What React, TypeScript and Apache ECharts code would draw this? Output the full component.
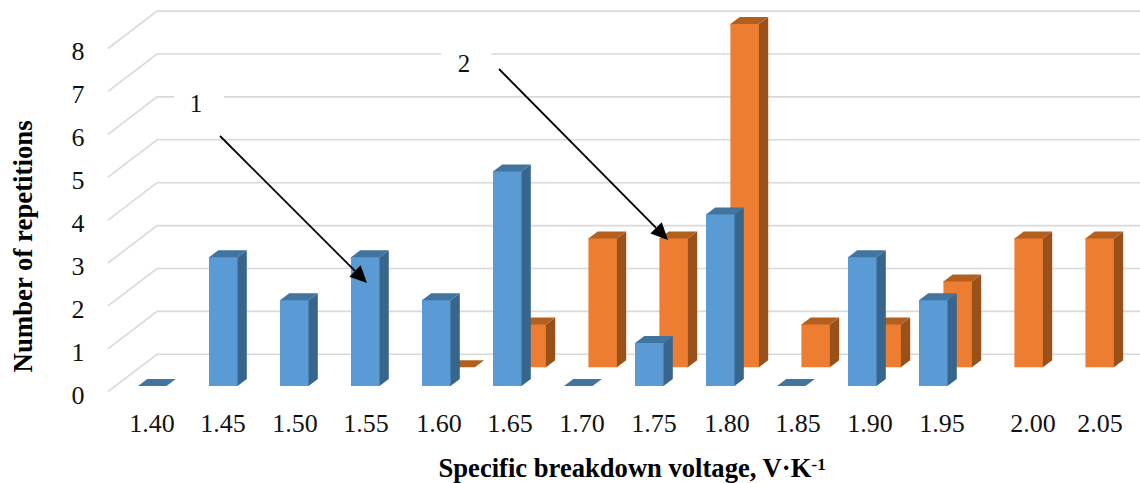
import React, { useEffect, useRef } from "react";
import * as echarts from "echarts";

const categories = ["1.40","1.45","1.50","1.55","1.60","1.65","1.70","1.75","1.80","1.85","1.90","1.95","2.00","2.05"];
const series1 = [0,3,2,3,2,5,0,1,4,0,3,2,null,null];
const series2 = [null,null,null,null,0,1,3,3,8,1,1,2,3,3];
const yTicks = [0,1,2,3,4,5,6,7,8];

const FONT = '"Liberation Serif", "Times New Roman", serif';
const GRID_LEFT = 116.5, BAND = 71, GRID_TOP = 42.8, GRID_H = 343.2;
const BAR_W = 28.5, DEPTH_X = 9.3, DEPTH_Y = 7;
const labelShift = [0,0,1,1,3,3,4,5,7,7,8,9,29,25];

function barRenderer(dx: number, dy: number, front: string, top: string, side: string) {
  return (_p: any, api: any) => {
    const i = api.value(0), v = api.value(1);
    const [cx, yTop0] = api.coord([i, v]);
    const [, yBase0] = api.coord([i, 0]);
    const x0 = cx + dx, x1 = x0 + BAR_W;
    const yT = yTop0 + dy, yB = yBase0 + dy;
    const children: any[] = [];
    if (v > 0) {
      // The side and top run slightly under the front face, so no seam shows between them.
      children.push({ type: "polygon", shape: { points: [[x1-1,yT],[x1,yT],[x1+DEPTH_X,yT-DEPTH_Y],[x1+DEPTH_X,yB-DEPTH_Y],[x1,yB],[x1-1,yB]] }, style: { fill: side } });
      children.push({ type: "polygon", shape: { points: [[x0,yT+1],[x0,yT],[x0+DEPTH_X,yT-DEPTH_Y],[x1+DEPTH_X,yT-DEPTH_Y],[x1,yT],[x1,yT+1]] }, style: { fill: top } });
      children.push({ type: "polygon", shape: { points: [[x0,yT],[x1,yT],[x1,yB],[x0,yB]] }, style: { fill: front } });
    } else {
      children.push({ type: "polygon", shape: { points: [[x0,yT],[x1,yT],[x1+DEPTH_X,yT-DEPTH_Y],[x0+DEPTH_X,yT-DEPTH_Y]] }, style: { fill: top } });
    }
    return { type: "group", children };
  };
}

function wallRenderer(_p: any, api: any) {
  const v = api.value(1);
  const [, y] = api.coord([0, v]);
  return {
    type: "polyline",
    shape: { points: [[108, y + 5.7], [157, y - 31.7], [1140, y - 31.7]] },
    style: { stroke: "#d9d9d9", lineWidth: 1.6, fill: "none" },
  };
}

function arrow(x1: number, y1: number, x2: number, y2: number) {
  const a = Math.atan2(y2 - y1, x2 - x1);
  const len = 17, half = 8;
  const bx = x2 - len * Math.cos(a), by = y2 - len * Math.sin(a);
  const nx = -Math.sin(a) * half, ny = Math.cos(a) * half;
  return [
    { type: "line", z: 20, shape: { x1, y1, x2: bx, y2: by }, style: { stroke: "#000", lineWidth: 1.8 } },
    { type: "polygon", z: 20, shape: { points: [[x2, y2], [bx + nx, by + ny], [bx - nx, by - ny]] }, style: { fill: "#000" } },
  ];
}

function callout(text: string, cx: number, cy: number, rx: number, ry: number) {
  return [
    { type: "rect", z: 15, shape: { x: rx, y: ry, width: 50, height: 30 }, style: { fill: "#fff" } },
    { type: "text", z: 16, x: cx, y: cy, style: { text, font: `25px ${FONT}`, fill: "#111", align: "center", verticalAlign: "middle" } },
  ];
}

export default function App() {
  const ref = useRef<HTMLDivElement>(null);
  useEffect(() => {
    document.body.style.margin = "0";
    const chart = echarts.init(ref.current!, null, { renderer: "svg" });
    const rich: any = {};
    labelShift.forEach((s, i) => {
      rich["s" + i] = { fontFamily: FONT, fontSize: 26, color: "#111", padding: [0, 0, 0, 2 * s] };
    });
    chart.setOption({
      animation: false,
      backgroundColor: "#fff",
      grid: { left: GRID_LEFT, top: GRID_TOP, width: BAND * categories.length, height: GRID_H, outerBoundsMode: "none", containLabel: false },
      xAxis: {
        type: "category",
        data: categories,
        axisLine: { show: false },
        axisTick: { show: false },
        axisLabel: {
          interval: 0,
          margin: 24,
          hideOverlap: false,
          formatter: (v: string, i: number) => `{s${i}|${v}}`,
          rich,
        },
        name: "{t|Specific breakdown voltage, V·K}{sup|-1}",
        nameLocation: "middle",
        nameGap: 70,
        nameTextStyle: {
          padding: [0, 0, 0, 37],
          rich: {
            t: { fontFamily: FONT, fontWeight: "bold", fontSize: 26.6, lineHeight: 24, color: "#000" },
            sup: { fontFamily: FONT, fontWeight: "bold", fontSize: 17, lineHeight: 9, verticalAlign: "top", color: "#000" },
          },
        },
      },
      yAxis: {
        type: "value",
        min: 0,
        max: 8,
        interval: 1,
        axisLine: { show: false },
        axisTick: { show: false },
        splitLine: { show: false },
        axisLabel: { fontFamily: FONT, fontSize: 26, color: "#111", margin: 32, verticalAlign: "top", lineHeight: 18 },
        name: "Number of repetitions",
        nameLocation: "middle",
        nameRotate: 90,
        nameGap: 80,
        nameTextStyle: { fontFamily: FONT, fontWeight: "bold", fontSize: 26.8, color: "#000", padding: [0, 64, 0, 0] },
      },
      series: [
        { type: "custom", name: "walls", silent: true, renderItem: wallRenderer, data: yTicks.map((v) => [0, v]), encode: { x: 0, y: 1 }, z: 1 },
        {
          type: "custom", name: "2", silent: true, z: 2, encode: { x: 0, y: 1 },
          renderItem: barRenderer(10.4, -18.7, "#ed7d31", "#b3601f", "#9a5119"),
          data: series2.map((v, i) => [i, v]).filter((d) => d[1] !== null),
        },
        {
          type: "custom", name: "1", silent: true, z: 3, encode: { x: 0, y: 1 },
          renderItem: barRenderer(-14, 0, "#5b9bd5", "#41749f", "#38658c"),
          data: series1.map((v, i) => [i, v]).filter((d) => d[1] !== null),
        },
      ],
      graphic: [
        ...callout("1", 196, 103, 174, 88),
        ...callout("2", 464, 63, 441, 45),
        ...arrow(220, 136, 367, 283),
        ...arrow(499, 69, 668, 240),
      ],
    });
    return () => chart.dispose();
  }, []);
  return <div ref={ref} style={{ position: "absolute", left: 0, top: 0, width: 1140, height: 483 }} />;
}
